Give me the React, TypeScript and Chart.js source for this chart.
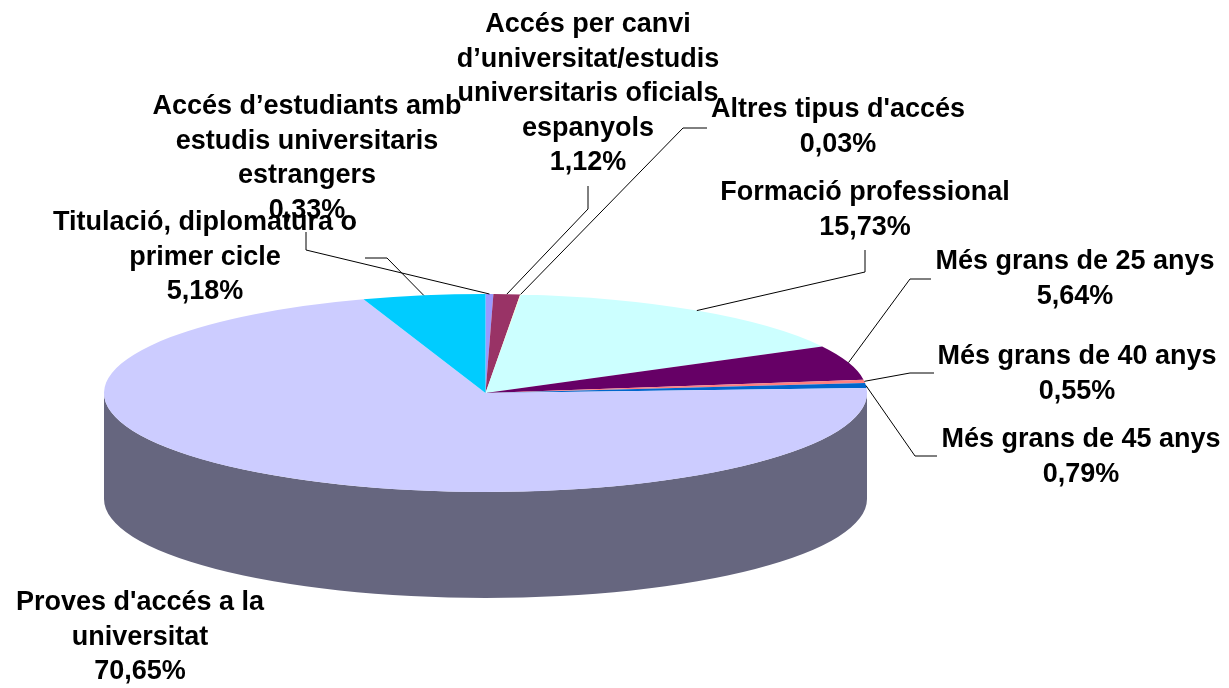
import React, { useEffect, useRef } from 'react';
import { Chart, registerables } from 'chart.js';

Chart.register(...registerables);

// ---- data ----
const categories = [
  'Accés d’estudiants amb\nestudis universitaris\nestrangers',
  'Accés per canvi\nd’universitat/estudis\nuniversitaris oficials\nespanyols',
  "Altres tipus d'accés",
  'Formació professional',
  'Més grans de 25 anys',
  'Més grans de 40 anys',
  'Més grans de 45 anys',
  "Proves d'accés a la\nuniversitat",
  'Titulació, diplomatura o\nprimer cicle',
];
const values = [0.33, 1.12, 0.03, 15.73, 5.64, 0.55, 0.79, 70.65, 5.18];
const sliceColors = ['#9999FF', '#993366', '#FFFFCC', '#CCFFFF', '#660066', '#FF8080', '#0066CC', '#CCCCFF', '#00CCFF'];

// ---- layout (label positions: centre x, first line y) ----
const labelAnchors = [
  [307, 107], [588, 25], [838, 110], [865, 193], [1075, 262],
  [1077, 357], [1081, 440], [140, 603], [205, 223],
];
// leader lines: start x, start y, elbow x, elbow y
const leaderPaths: (number[] | null)[] = [
  [306, 232, 306, 250], [588, 186, 588, 209], [707, 128, 683, 128], [865, 250, 865, 272],
  [931, 279, 910, 279], [934, 373, 910, 373], [937, 456, 915, 456], null, [365, 258, 387, 258],
];

const PIE_CX = 485.5;
const PIE_CY = 393;
const PIE_RX = 381.5;
const PIE_RY = 99;
const PIE_DEPTH = 106;
const FONT = 'bold 27px "Liberation Sans", Arial, sans-serif';
const LINE_H = 34.5;

function darken(hex: string) {
  const n = parseInt(hex.slice(1), 16);
  const r = ((n >> 16) & 255) >> 1, g = ((n >> 8) & 255) >> 1, b = (n & 255) >> 1;
  return `rgb(${r},${g},${b})`;
}

function fmt(v: number) {
  return v.toFixed(2).replace('.', ',') + '%';
}

const pie3d = {
  id: 'pie3d',
  beforeDatasetsDraw(chart: any) {
    const ctx = chart.ctx;
    const meta = chart.getDatasetMeta(0);
    meta.data.forEach((arc: any, i: number) => {
      const p = arc.getProps(['startAngle', 'endAngle'], true);
      const s = Math.max(p.startAngle, 0);
      const e = Math.min(p.endAngle, Math.PI);
      if (e <= s) return;
      ctx.beginPath();
      ctx.ellipse(PIE_CX, PIE_CY, PIE_RX, PIE_RY, 0, s, e, false);
      ctx.lineTo(PIE_CX + PIE_RX * Math.cos(e), PIE_CY + PIE_DEPTH + PIE_RY * Math.sin(e));
      ctx.ellipse(PIE_CX, PIE_CY + PIE_DEPTH, PIE_RX, PIE_RY, 0, e, s, true);
      ctx.closePath();
      ctx.fillStyle = darken(sliceColors[i]);
      ctx.fill();
    });
    const g = meta.data[0].getProps(['x', 'y', 'outerRadius'], true);
    ctx.save();
    ctx.translate(PIE_CX, PIE_CY);
    ctx.scale(PIE_RX / g.outerRadius, PIE_RY / g.outerRadius);
    ctx.translate(-g.x, -g.y);
  },
  afterDatasetsDraw(chart: any) {
    const ctx = chart.ctx;
    ctx.restore();
    const meta = chart.getDatasetMeta(0);
    // leader lines
    ctx.save();
    ctx.strokeStyle = '#000';
    ctx.lineWidth = 1;
    meta.data.forEach((arc: any, i: number) => {
      const lp = leaderPaths[i];
      if (!lp) return;
      const p = arc.getProps(['startAngle', 'endAngle'], true);
      const m = (p.startAngle + p.endAngle) / 2;
      const ex = PIE_CX + PIE_RX * Math.cos(m);
      const ey = PIE_CY + PIE_RY * Math.sin(m);
      ctx.beginPath();
      ctx.moveTo(lp[0], lp[1]);
      ctx.lineTo(lp[2], lp[3]);
      ctx.lineTo(ex, ey);
      ctx.stroke();
    });
    // labels
    ctx.fillStyle = '#000';
    ctx.font = FONT;
    ctx.textAlign = 'center';
    ctx.textBaseline = 'middle';
    categories.forEach((c, i) => {
      const lines = c.split('\n').concat([fmt(values[i])]);
      const [x, y] = labelAnchors[i];
      lines.forEach((t, k) => ctx.fillText(t, x, y + k * LINE_H));
    });
    ctx.restore();
  },
};

export default function App() {
  const ref = useRef<HTMLCanvasElement>(null);
  useEffect(() => {
    const chart = new Chart(ref.current as HTMLCanvasElement, {
      type: 'pie',
      data: {
        labels: categories,
        datasets: [
          {
            data: values,
            backgroundColor: sliceColors,
            borderWidth: 0,
            clip: false,
          } as any,
        ],
      },
      options: {
        animation: false,
        responsive: false,
        devicePixelRatio: 1,
        events: [],
        layout: { padding: 0 },
        plugins: {
          legend: { display: false },
          tooltip: { enabled: false },
        },
      },
      plugins: [pie3d],
    });
    return () => chart.destroy();
  }, []);
  return (
    <div style={{ position: 'absolute', left: 0, top: 0, width: 1229, height: 688, background: '#fff' }}>
      <canvas ref={ref} width={1229} height={688} style={{ display: 'block' }} />
    </div>
  );
}
